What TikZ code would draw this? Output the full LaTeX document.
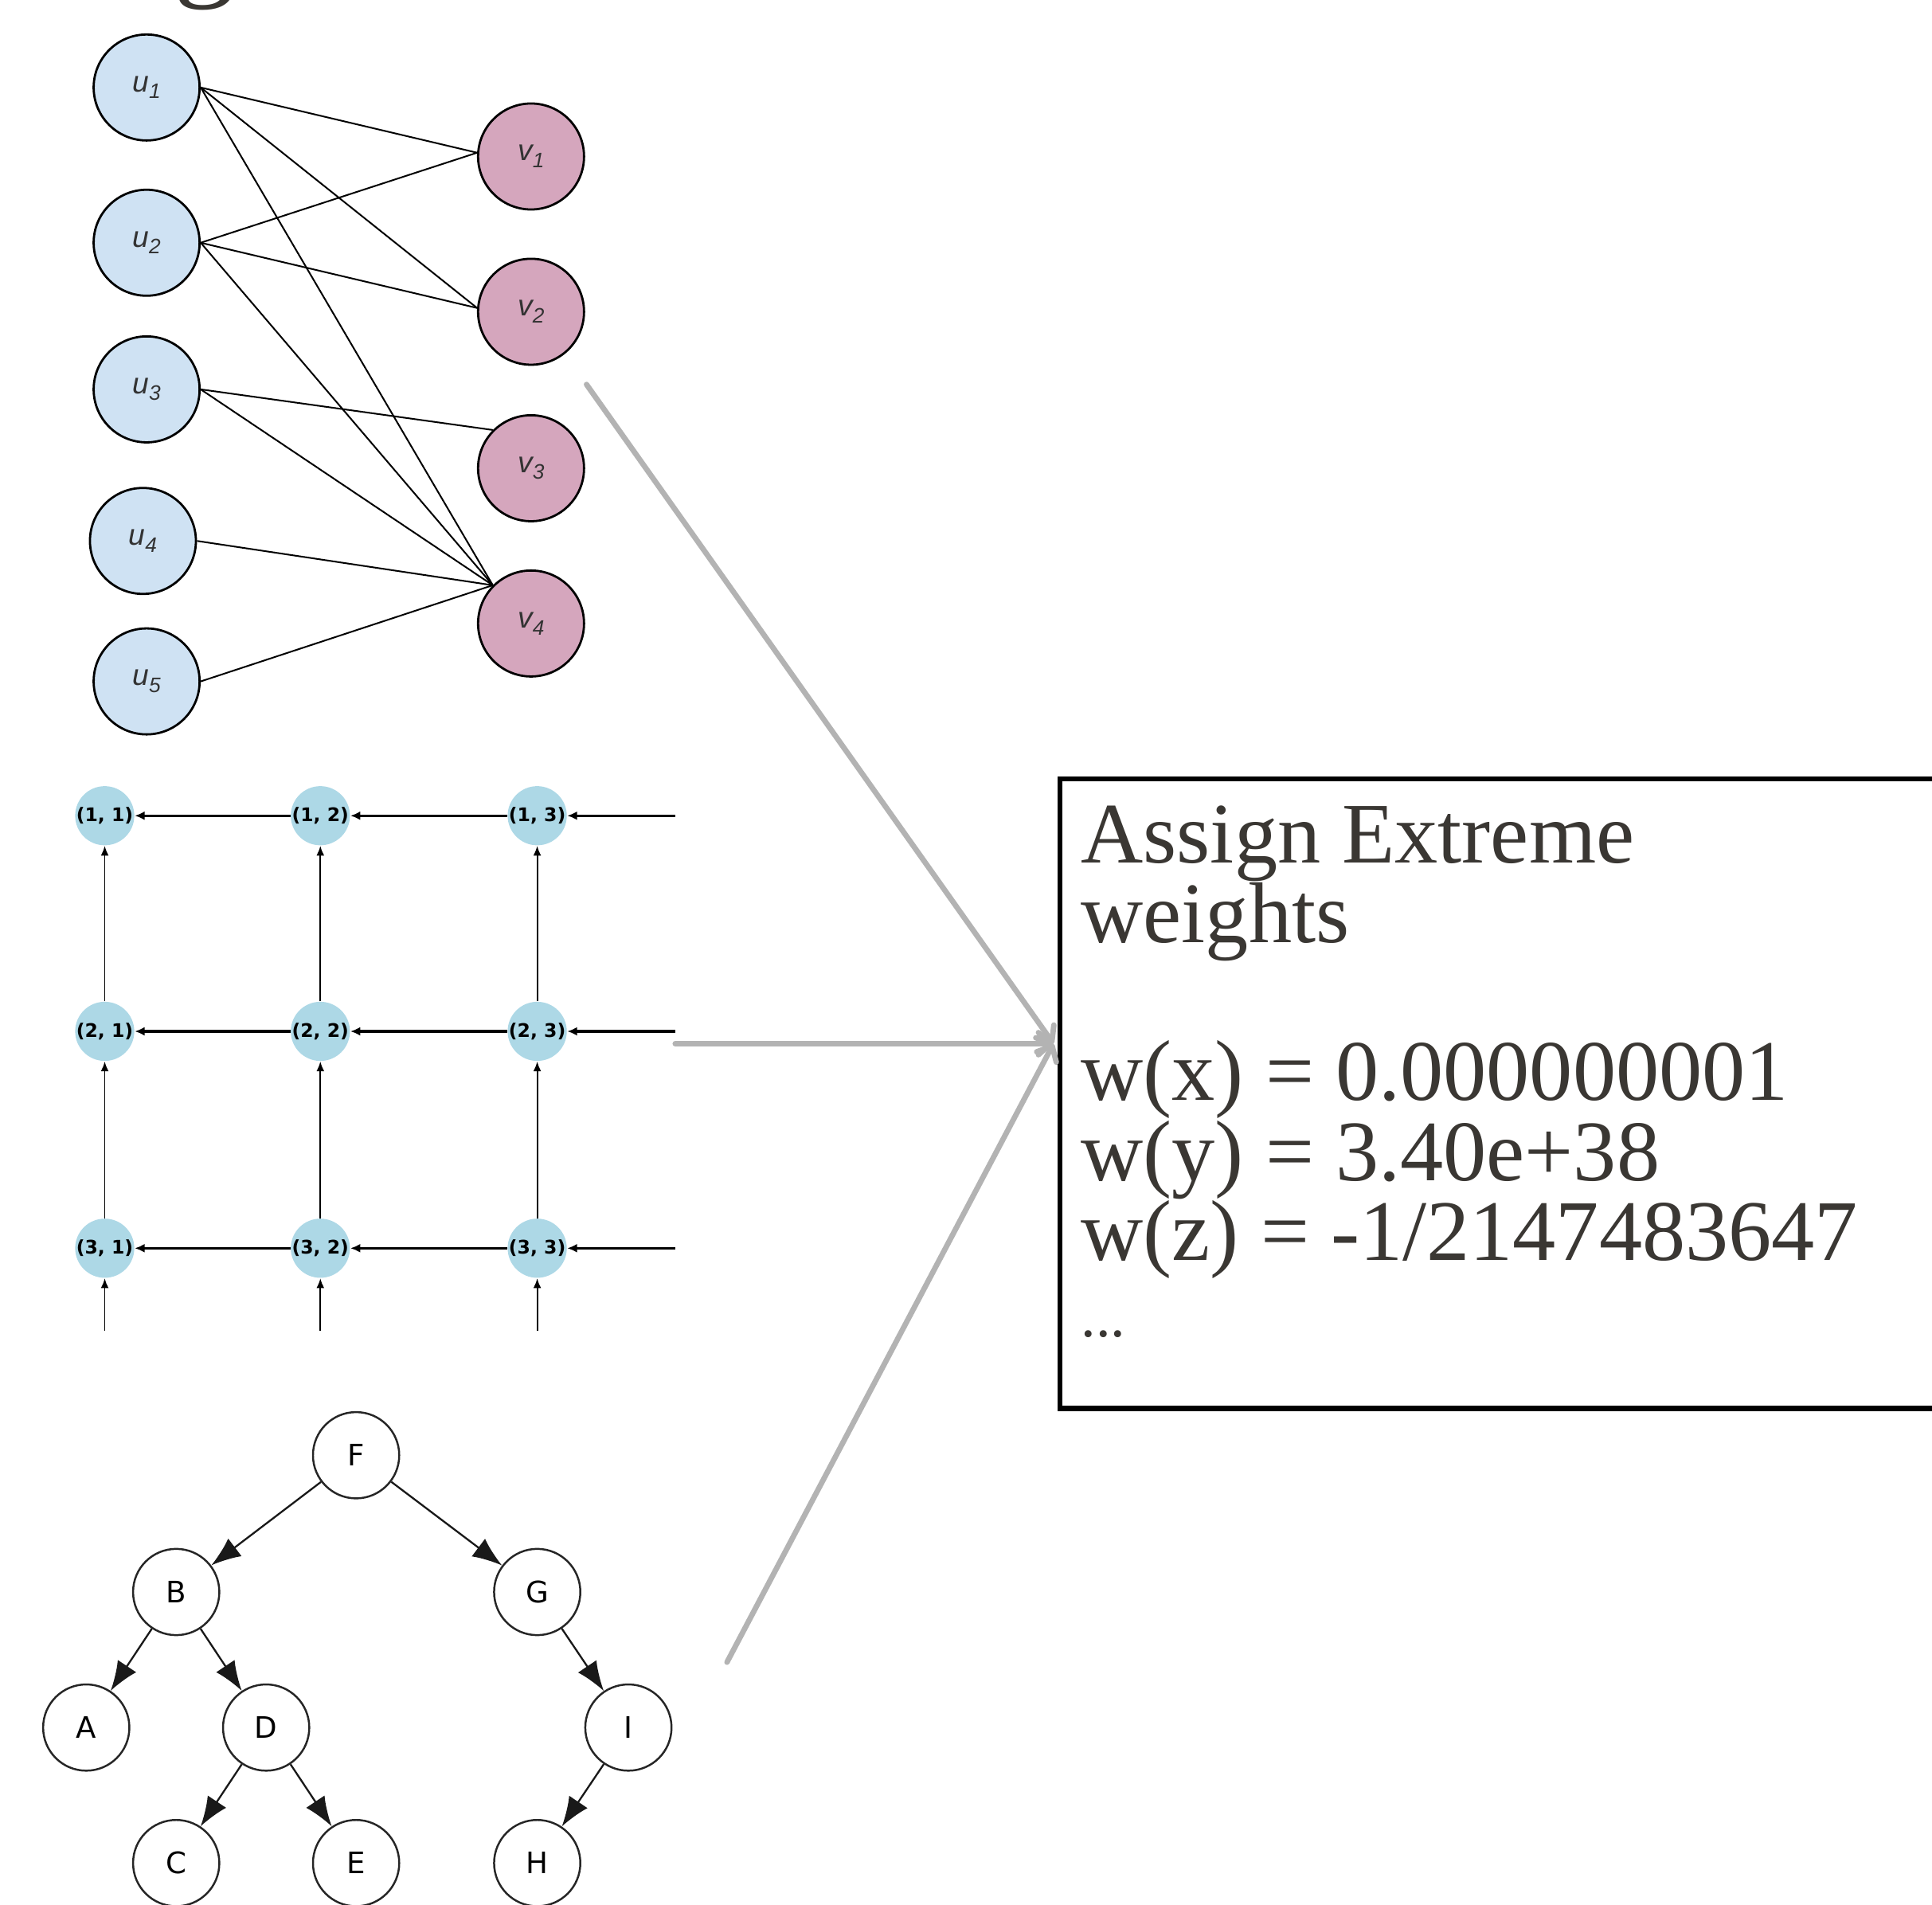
\documentclass[tikz,border=0pt]{standalone}
\usepackage{fontspec}
\setmainfont{Liberation Serif}
\newfontfamily\arialfam{Liberation Sans}
\newfontfamily\djvfam{DejaVu Sans}
\usetikzlibrary{arrows.meta}
\definecolor{ublue}{HTML}{CFE2F3}
\definecolor{vpink}{HTML}{D5A6BD}
\definecolor{gblue}{HTML}{ADD8E6}
\definecolor{txtgray}{HTML}{3A3733}
\definecolor{arrgray}{HTML}{B3B3B3}
\definecolor{labgray}{HTML}{333333}
\newcommand{\ulab}[2]{{\arialfam\itshape\color{labgray}#1\raisebox{-2.8pt}{\fontsize{8.5}{9}\selectfont #2}}}
\tikzset{
  unode/.style={circle, draw=black, line width=0.9pt, fill=ublue, minimum size=43pt, inner sep=0pt, font=\fontsize{12}{14}\selectfont},
  vnode/.style={unode, fill=vpink},
  bedge/.style={line width=0.65pt, draw=black},
  gnode/.style={circle, fill=gblue, minimum size=17.5pt, inner sep=0pt, font=\djvfam\bfseries\fontsize{7.6}{8}\selectfont},
  harrow/.style={line width=1.1pt, -{Latex[length=4pt,width=3.6pt]}},
  varrow/.style={line width=0.6pt, -{Latex[length=4pt,width=3.2pt]}},
  tnode/.style={circle, draw=black!85, line width=0.8pt, minimum size=35pt, inner sep=0pt, font=\djvfam\fontsize{12}{14}\selectfont},
  tarrow/.style={line width=0.75pt, draw=black!90, -{Latex[length=12pt,width=9pt]}},
  garrow/.style={draw=arrgray, line width=2.2pt, line cap=round, -{Straight Barb[length=5pt,width=9pt,round]}},
  boxtext/.style={anchor=base west, inner sep=0pt, text=txtgray, font=\fontsize{35}{40}\selectfont},
}
\begin{document}
\begin{tikzpicture}[x=0.5pt,y=-0.5pt]
\useasboundingbox (0,0) rectangle (1568,1546);

% cut-off title fragment
\node[anchor=base west, inner sep=0pt, text=txtgray, font=\fontsize{50}{55}\selectfont] (title) at (141,-13) {g};

% ---------- bipartite graph ----------
\node[unode] (u1) at (119,71) {\ulab{u}{1}};
\node[unode] (u2) at (119,197) {\ulab{u}{2}};
\node[unode] (u3) at (119,316) {\ulab{u}{3}};
\node[unode] (u4) at (116,439) {\ulab{u}{4}};
\node[unode] (u5) at (119,553) {\ulab{u}{5}};
\node[vnode] (v1) at (431,127) {\ulab{v}{1}};
\node[vnode] (v2) at (431,253) {\ulab{v}{2}};
\node[vnode] (v3) at (431,380) {\ulab{v}{3}};
\node[vnode] (v4) at (431,506) {\ulab{v}{4}};

\draw[bedge] (u1.east) -- (v1.176);
\draw[bedge] (u1.east) -- (v2.176);
\draw[bedge] (u1.east) -- (v4.135);
\draw[bedge] (u2.east) -- (v1.176);
\draw[bedge] (u2.east) -- (v2.176);
\draw[bedge] (u2.east) -- (v4.135);
\draw[bedge] (u3.east) -- (v3.135);
\draw[bedge] (u3.east) -- (v4.135);
\draw[bedge] (u4.east) -- (v4.135);
\draw[bedge] (u5.east) -- (v4.135);

% ---------- grid graph ----------
\foreach \r/\y in {1/662,2/837,3/1013}{
  \foreach \c/\x in {1/85,2/260,3/436}{
    \node[gnode] (g\r\c) at (\x,\y) {(\r, \c)};
  }
  \coordinate (e\r) at (548,\y);
}
\coordinate (b1) at (85,1080);
\coordinate (b2) at (260,1080);
\coordinate (b3) at (436,1080);

\foreach \r in {1,2,3}{
  \draw[harrow] (g\r2) -- (g\r1);
  \draw[harrow] (g\r3) -- (g\r2);
  \draw[harrow] (e\r) -- (g\r3);
}
\foreach \c in {1,2,3}{
  \draw[varrow] (g2\c) -- (g1\c);
  \draw[varrow] (g3\c) -- (g2\c);
  \draw[varrow] (b\c) -- (g3\c);
}

% ---------- tree ----------
\node[tnode] (F) at (289,1181) {F};
\node[tnode] (B) at (143,1292) {B};
\node[tnode] (G) at (436,1292) {G};
\node[tnode] (A) at (70,1402) {A};
\node[tnode] (D) at (216,1402) {D};
\node[tnode] (I) at (510,1402) {I};
\node[tnode] (C) at (143,1512) {C};
\node[tnode] (E) at (289,1512) {E};
\node[tnode] (H) at (436,1512) {H};
\draw[tarrow] (F) -- (B);
\draw[tarrow] (F) -- (G);
\draw[tarrow] (B) -- (A);
\draw[tarrow] (B) -- (D);
\draw[tarrow] (D) -- (C);
\draw[tarrow] (D) -- (E);
\draw[tarrow] (G) -- (I);
\draw[tarrow] (I) -- (H);

% ---------- box ----------
\node[draw=black, line width=2.1pt, rectangle, minimum width=371pt, minimum height=255.5pt, anchor=north west, inner sep=0pt] (box) at (858,630) {};
\node[boxtext] (t1) at (877,700) {Assign Extreme};
\node[boxtext] (t2) at (877,765) {weights};
\node[boxtext] (t3) at (877,893) {w(x) = 0.000000001};
\node[boxtext] (t4) at (877,958) {w(y) = 3.40e+38};
\node[boxtext] (t5) at (877,1023) {w(z) = -1/2147483647};
\node[boxtext, font=\fontsize{24}{28}\selectfont] (t6) at (877,1085) {...};

% ---------- grey connectors ----------
\coordinate (s1) at (476,312);
\coordinate (s2) at (548,847);
\coordinate (s3) at (590,1349);
\coordinate (tip) at (855,847);
\draw[garrow] (s1) -- (tip);
\draw[garrow] (s2) -- (tip);
\draw[garrow] (s3) -- (tip);
\end{tikzpicture}
\end{document}
